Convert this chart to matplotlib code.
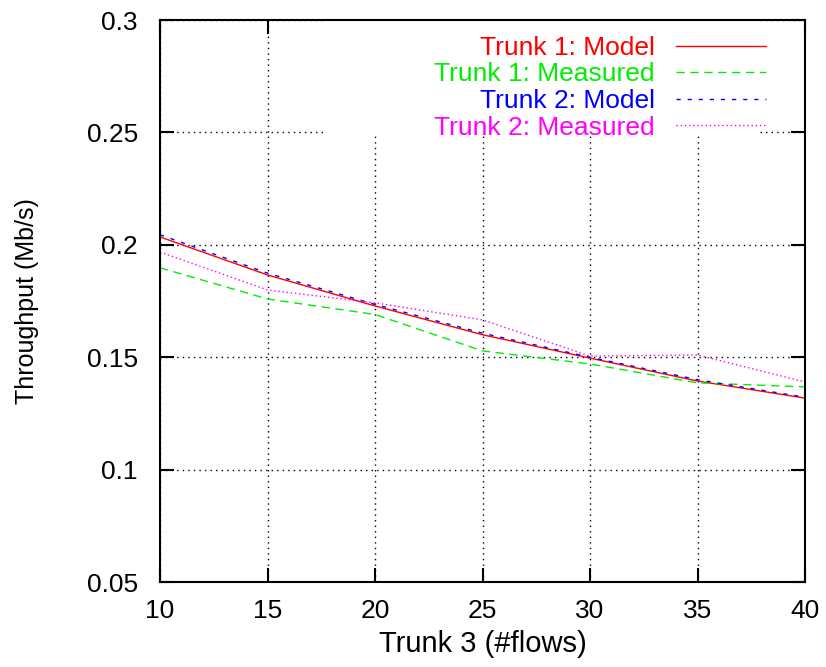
import matplotlib
matplotlib.use("Agg")
import matplotlib.pyplot as plt
from matplotlib.patches import Rectangle

flows = [10, 15, 20, 25, 30, 35, 40]
trunk1_model = [0.2035, 0.1866, 0.1728, 0.1600, 0.1496, 0.1394, 0.1318]
trunk1_measured = [0.1898, 0.1759, 0.1690, 0.1528, 0.1470, 0.1386, 0.1368]
trunk2_model = [0.2045, 0.1874, 0.1735, 0.1607, 0.1500, 0.1400, 0.1322]
trunk2_measured = [0.1968, 0.1799, 0.1742, 0.1666, 0.1505, 0.1510, 0.1390]

x_ticks = [10, 15, 20, 25, 30, 35, 40]
y_ticks = [0.05, 0.1, 0.15, 0.2, 0.25, 0.3]
y_labels = ["0.05", "0.1", "0.15", "0.2", "0.25", "0.3"]

plt.rcParams["font.family"] = ["Liberation Sans", "DejaVu Sans"]
plt.rcParams["font.size"] = 19

fig = plt.figure(figsize=(8.26, 6.67), dpi=100)
ax = fig.add_axes([0.1937, 0.1274, 0.781, 0.8426])

ax.plot(flows, trunk1_model, color="#ff0000", lw=1.0, ls="-", label="Trunk 1: Model")
ax.plot(flows, trunk1_measured, color="#00ee00", lw=1.0, ls=(0, (6, 4)), label="Trunk 1: Measured")
ax.plot(flows, trunk2_model, color="#0000ff", lw=1.0, ls=(0, (3, 5)), label="Trunk 2: Model")
ax.plot(flows, trunk2_measured, color="#ff00ff", lw=1.0, ls=(0, (1, 2)), label="Trunk 2: Measured")

ax.set_xlim(10, 40)
ax.set_ylim(0.05, 0.3)
ax.set_xticks(x_ticks)
ax.set_yticks(y_ticks)
ax.set_yticklabels(y_labels)
ax.tick_params(direction="in", length=10, width=1.5, top=True, right=True, labelsize=19)
ax.tick_params(axis="y", pad=16)
ax.tick_params(axis="x", pad=12)
for s in ax.spines.values():
    s.set_linewidth(1.5)

ax.grid(True, color="black", ls=(0, (1, 3)), lw=1.0)
ax.set_axisbelow(True)

# white area behind the key, hides the grid like gnuplot does
ax.add_patch(Rectangle((0.255, 0.795), 0.67, 0.205, transform=ax.transAxes,
                       facecolor="white", edgecolor="none", zorder=1))

ax.set_xlabel("Trunk 3 (#flows)", fontsize=21, labelpad=5)
ax.set_ylabel("Throughput (Mb/s)", fontsize=18, labelpad=34)

leg = ax.legend(loc="upper right", bbox_to_anchor=(0.952, 0.986), borderaxespad=0,
                markerfirst=False, labelcolor="linecolor", fontsize=19,
                handlelength=3.4, handletextpad=0.83, labelspacing=0.1,
                borderpad=0.3, frameon=False)

fig.savefig("out.png", dpi=100)
